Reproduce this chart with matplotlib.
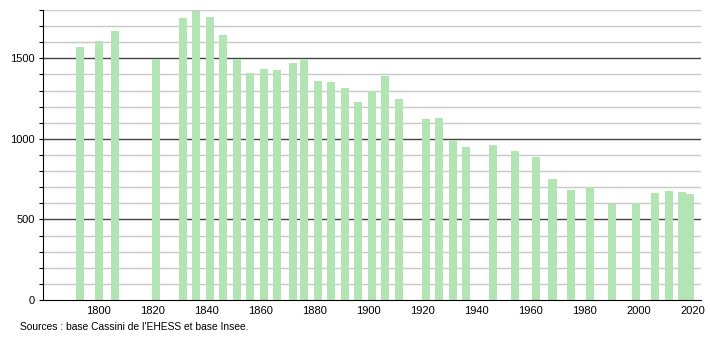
import matplotlib
matplotlib.use("Agg")
import matplotlib.pyplot as plt

years = [1793, 1800, 1806, 1821, 1831, 1836, 1841, 1846, 1851, 1856, 1861, 1866,
         1872, 1876, 1881, 1886, 1891, 1896, 1901, 1906, 1911, 1921, 1926, 1931,
         1936, 1946, 1954, 1962, 1968, 1975, 1982, 1990, 1999, 2006, 2011, 2016, 2019]
population = [1570, 1610, 1670, 1497, 1752, 1795, 1758, 1646, 1498, 1410, 1435, 1429,
              1472, 1497, 1360, 1354, 1317, 1230, 1298, 1391, 1248, 1124, 1130, 995,
              950, 963, 925, 888, 750, 681, 700, 594, 600, 662, 675, 669, 656]
xticks = [1800, 1820, 1840, 1860, 1880, 1900, 1920, 1940, 1960, 1980, 2000, 2020]
yticks = [0, 500, 1000, 1500]

plt.rcParams['font.family'] = ['Liberation Sans', 'DejaVu Sans']

fig = plt.figure(figsize=(7.1, 3.4), dpi=100)
ax = fig.add_axes([43 / 710, 40 / 340, (700.7 - 43) / 710, 290 / 340])

# grid: light every 100, dark every 500
for v in range(100, 1801, 100):
    if v % 500 == 0:
        ax.axhline(v, color='#444444', lw=1.0, zorder=1)
    else:
        ax.axhline(v, color='#c8c8c8', lw=1.0, zorder=1)

ax.bar(years, population, width=3, color='#b3e4b3', zorder=2)

ax.set_xlim(1779.3, 2022.9)
ax.set_ylim(0, 1800)
ax.set_xticks(xticks)
ax.set_yticks(yticks)
ax.set_yticks(range(0, 1801, 100), minor=True)
ax.tick_params(axis='x', length=0, labelsize=8, pad=4)
ax.tick_params(axis='y', which='major', length=3, labelsize=8, width=0.8, pad=3)
ax.tick_params(axis='y', which='minor', length=3, width=0.8)

for s in ['top', 'right']:
    ax.spines[s].set_visible(False)
ax.spines['left'].set_color('black')
ax.spines['bottom'].set_color('black')

fig.text(20 / 710, 1 - 327 / 340, "Sources : base Cassini de l'EHESS et base Insee.",
         fontsize=7.4, va='center', ha='left')

fig.savefig('out.png', dpi=100)
